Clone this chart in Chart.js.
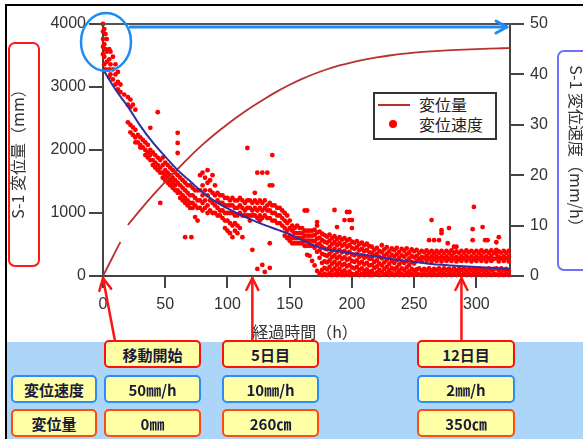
<!DOCTYPE html>
<html><head><meta charset="utf-8">
<script src="https://cdn.jsdelivr.net/npm/chart.js@4.4.0/dist/chart.umd.min.js"></script>
<style>
html,body{margin:0;padding:0;background:#fff;}
#wrap{position:relative;width:583px;height:439px;overflow:hidden;background:#fff;}
#band{position:absolute;left:6px;top:342px;width:577px;height:97px;background:#acd5f7;}
#frameT{position:absolute;left:5px;top:4px;width:578px;height:2px;background:#000;}
#frameL{position:absolute;left:5px;top:4px;width:2px;height:435px;background:#000;}
canvas{position:absolute;left:0;top:0;}
.box{position:absolute;box-sizing:border-box;background:#ffffa6;border:2px solid #ff1010;border-radius:5px;font:bold 15px "Noto Sans CJK JP",sans-serif;color:#1a1a3a;display:flex;align-items:center;justify-content:center;}
.r2{border-color:#2a8cff;}
.r3{border-color:#ff4a10;}
.ttl{position:absolute;font:16px "Noto Sans CJK JP",sans-serif;color:#333;text-align:center;white-space:nowrap;}
.rbox{position:absolute;box-sizing:border-box;border-radius:7px;}
#legend{position:absolute;left:373px;top:92px;width:124px;height:48px;box-sizing:border-box;border:2px solid #333;background:#fff;}
.lt{position:absolute;font:16px "Noto Sans CJK JP",sans-serif;color:#222;line-height:18px;}
</style></head>
<body>
<div id="wrap">
<div id="band"></div>
<canvas id="c" width="583" height="439"></canvas>
<div id="frameT"></div><div id="frameL"></div>
<div class="rbox" style="left:8px;top:42px;width:32px;height:225px;border:2px solid #ff1a1a;"></div>
<div class="rbox" style="left:557px;top:50px;width:40px;height:221px;border:2px solid #7070ff;"></div>
<div class="ttl" style="left:-83px;top:140px;width:200px;height:20px;line-height:20px;transform:rotate(-90deg);">S-1 変位量（mm）</div>
<div class="ttl" style="left:477px;top:140px;width:200px;height:20px;line-height:20px;transform:rotate(90deg);">S-1 変位速度（mm/h）</div>
<div class="ttl" style="left:205px;top:320px;width:200px;height:22px;line-height:22px;">経過時間（h）</div>
<div id="legend"></div>
<div style="position:absolute;left:378px;top:104px;width:32px;height:2px;background:#b8312f;"></div>
<div style="position:absolute;left:389px;top:120px;width:8px;height:8px;border-radius:4px;background:#ff0000;"></div>
<div class="lt" style="left:419px;top:95px;">変位量</div>
<div class="lt" style="left:419px;top:115px;">変位速度</div>
<div class="box" style="left:104px;top:340px;width:97px;height:28px;">移動開始</div>
<div class="box" style="left:222px;top:340px;width:97px;height:28px;">5日目</div>
<div class="box" style="left:417px;top:340px;width:98px;height:28px;">12日目</div>
<div class="box r2" style="left:11px;top:375px;width:86px;height:28px;">変位速度</div>
<div class="box r2" style="left:104px;top:375px;width:97px;height:28px;">50㎜/h</div>
<div class="box r2" style="left:222px;top:375px;width:97px;height:28px;">10㎜/h</div>
<div class="box r2" style="left:417px;top:375px;width:98px;height:28px;">2㎜/h</div>
<div class="box r3" style="left:11px;top:409px;width:86px;height:28px;">変位量</div>
<div class="box r3" style="left:104px;top:409px;width:97px;height:28px;">0㎜</div>
<div class="box r3" style="left:222px;top:409px;width:97px;height:28px;">260㎝</div>
<div class="box r3" style="left:417px;top:409px;width:98px;height:28px;">350㎝</div>
</div>
<script>
// ---- data ----
const xTicks = [0,50,100,150,200,250,300];
const dispTicks = [0,1000,2000,3000,4000];
const velTicks = [0,10,20,30,40,50];
const eventHours = [0,120,288];

const dispTime  = [0,4,8,12,14,17,20,30,40,50,60,70,80,90,100,110,120,130,140,150,160,170,180,190,200,210,220,230,240,250,260,270,280,290,300,310,320,327];
const dispValue = [0,155,310,465,540,null,810,1050,1280,1495,1700,1900,2085,2255,2410,2555,2690,2815,2930,3035,3128,3210,3282,3342,3392,3435,3470,3500,3525,3545,3561,3574,3585,3594,3602,3609,3615,3619];

const fitTime  = [0,10,20,30,40,50,60,70,80,90,100,110,120,130,140,150,160,170,180,190,200,220,240,260,280,300,327];
const fitValue = [41,37.0,33.6,29.8,26.5,23.7,21.0,18.8,16.6,14.8,13.4,12.2,11.1,10.1,9.2,8.3,7.1,6.0,5.2,4.9,4.5,3.8,3.1,2.5,2.1,1.8,1.4];

const velTime = [
 0,1,2,3,5,6,8,10,12,14,
 17,20,22,24,26,28,30,32,34,36,
 38,40,42,44,46,48,50,52,54,56,
 58,60,62,64,66,68,70,71,72,74,
 76,78,80,82,84,86,88,90,92,94,
 96,98,100,102,104,106,108,110,112,114,
 116,118,120,122,124,126,128,130,132,134,
 136,138,140,142,144,146,148,150,152,154,
 156,158,160,162,164,166,168,170,172,174,
 176,178,180,182,184,186,188,190,192,194,
 196,198,200,202,204,206,208,210,212,214,
 216,218,220,222,224,226,228,230,232,234,
 236,238,240,242,244,246,248,250,252,254,
 256,258,260,262,264,266,268,270,272,274,
 276,277,278,280,282,284,286,288,290,292,
 294,296,297,298,300,302,304,305,306,307,
 308,309,310,312,314,316,318,320,322,324,
 326
];
const velValues = [
 [50,48.5,47,45.5,44],[49,46,43.5,42],[48,45,41],[47,44.5,42.5],[45,43,41,39.5],[44.5,42,40],[43.5,41,39],[42,40,38],[40.5,38.5,37],[38,36.5],
 [36],[35.5,34,30.5],[35,33.5,30,28.5],[34,29.5,28],[33,29,27.5,26.5],[28,26.5],[27.5,26,25.5],[27,25.5],[26.5,25,24],[26,24.5,23.5],
 [29.4,25,24,23],[24.5,23,22],[24,22.5,21.5],[32.5,23.5,22,21],[23,21.5,20.5,14.5],[23.5,22,20.5,19.5],[22.5,21,20,19],[22,20.5,19.5,18.5],[21.5,20,19,18],[21,19.5,18.5,17.5],
 [20.5,19,18,17],[28.4,26.4,24.4,20,18.5,17,16.5],[19.5,18,16.5,15.5],[19,17.5,16,15],[18.5,17,15.5,14.5,7.7],[18,16.5,15,14],[18,16,14.5,13.5],[7.7],[17.5,16,14.5,13.5],[17,15.5,14,11.7],
 [17,15,13.5,11],[20,17,15,13.5],[20.5,18,16,14.5,13],[19.5,17,15,13.5],[21,18.5,16,14,12.5],[19,17,15,13],[20,16.5,14.5,12.5],[18,16,14,12.5],[16.5,15,13.5,12],[16,14.5,13,12],
 [16,14.5,13,11.5],[15.5,14,12.5,11,9.5],[15.5,14,12.5,11,9],[15,14,12.5,10.5,8.5],[15.5,14,12.5,10,7.7],[15,13.5,12,10.5,9],[15,13.5,12,10,8.5],[15.5,14,12.5,9.5],[15,13.5,12,7.7],[14.5,13,12],
 [25.4,15,13.5,12],[15,13.5,12,11],[14.5,13,12,5.2],[16.5,15,13.5,12],[20.5,14.5,13,11.5,1.4],[15,13.5,12,11],[20.5,14.5,13,11.5,2.2],[15,13.5,12,0.8],[20.5,14,13,11.5],[18,14.5,13,11.5,6.5,1.6],
 [24,18,14,12.5,11],[14,12.5,11],[13.5,12,10.5],[13.5,12,10.5],[13,11.5,10],[12.5,11,9.5,8],[12,10.5,9,7.5],[11,9.5,8,7],[10,9,7.5,6.5],[9.5,8.5,7.5,6.5],
 [10,8.5,7.5,6.5],[9.5,8.5,7.5,6.5],[9.5,8.5,7.5,6.5],[13,9,8,7,6],[13,9,8,7,6,4.2],[9,8,7,6,4],[9,8,7,6,3],[9.2,8.1,6.9,5.6,2.1],[10.7,10,8.6,7.4,6.2,4.8,1],[8.8,7.6,6.4,5.1,3.6,0.5],
 [8.4,7.1,5.8,4.4,2.6,1.2,0.2],[8.1,6.8,5.5,4.2,2.9,1.6,0.4],[7.8,6.6,5.3,4,2.7,1.3,0.2],[8.2,7,5.7,4.4,3.1,1.8,0.5],[7.5,6.3,5,3.7,2.4,1.1,0.2],[13.1,7.9,6.7,5.4,4.1,2.8,1.5,0.3],[9.7,7.3,6.1,4.8,3.5,2.2,0.9,0.2],[7.7,6.5,5.2,3.9,2.6,1.4,0.3],[7.2,6,4.7,3.4,2.1,0.8,0.2],[11.1,7.5,6.3,5,3.7,2.4,1.1,0.2],
 [12.7,7,5.8,4.5,3.2,1.9,0.6],[12.7,11.1,7.3,6.1,4.8,3.5,2.2,0.9,0.2],[11.1,9.5,6.8,5.6,4.3,3,1.7,0.4],[6.6,5.4,4.1,2.8,1.5,0.3],[6.9,5.7,4.4,3.1,1.8,0.6],[6.3,5.1,3.8,2.5,1.2,0.2],[6.6,5.4,4.1,2.8,1.5,0.4],[6.1,4.9,3.6,2.3,1,0.2],[6.4,5.2,3.9,2.6,1.3,0.4],[5.9,4.7,3.4,2.1,0.8,0.2],
 [5.8,4.6,3.4,2.2,1,0.2],[5.2,4.1,2.8,1.6,0.4],[5.6,4.4,3.1,1.9,0.7],[5,3.8,2.5,1.2,0.2],[6.1,4.7,3.5,2.1,0.8],[5.3,4,2.7,1.4,0.3],[5.7,4.4,3.2,1.8,0.6],[4.9,3.7,2.4,1.1,0.2],[5.5,4.2,3,1.6,0.5],[5.1,3.9,2.6,1.3,0.2],
 [5.6,4.3,3.1,1.7,0.6],[4.8,3.6,2.3,1,0.2],[5.4,4.1,2.9,1.5,0.4],[5,3.8,2.6,1.2,0.2],[5.5,4.3,3,1.7,0.6],[4.7,3.5,2.2,0.9,0.2],[5.3,4,2.8,1.4,0.4],[4.9,3.7,2.5,1.1,0.2],[5.2,4,3,1.3,0.5],[4.6,3.4,1.5,0.3],
 [5,3.8,2.9,1.1,0.2],[4.7,3.6,1.4,0.5],[5.1,4,3,1.2,0.2],[7.1,4.6,3.5,1.5,0.5],[11.1,5,3.9,2.9,1.1,0.2],[7.1,4.5,3.4,1.4,0.5],[5,3.9,3,1.2,0.2],[7.1,4.6,3.5,1.5,0.5],[9.1,8.5,5,3.9,2.9,1.1,0.2],[4.6,3.5,1.5,0.5],
 [5,3.9,3,1.2,0.2],[6.5],[9.5,4.6,3.4,1.4,0.5],[5.1,4,3,1.1,0.2],[5.8,4.6,3.5,1.5,0.5],[5.8,4.9,3.8,2.9,1.1,0.2],[4.6,3.4,1.4,0.5],[5,3.9,3,1.2,0.2],[4.6,3.5,1.5,0.5],[5.1,4,3,1.1,0.2],
 [4.7,3.5,1.5,0.5],[5,3.9,2.9,1.2,0.2],[9.3,7.1],[13.7,4.6,3.4,1.4,0.5],[5,3.9,3,1.1,0.2],[4.6,3.5,1.5,0.5],[5.1,4,3,1.2,0.2],[9.7],[4.7,3.5,1.4,0.5],[7.1],
 [5,3.9,2.9,1.1,0.2],[7.1],[4.6,3.5,1.5,0.5],[5.1,4,3,1.2,0.2],[4.6,3.4,1.4,0.5],[6.7,5.2,4.4,3.5,1.5,0.3],[7.7,4.9,3.8,2.9,1.1,0.2],[4.6,3.5,1.5,0.5],[5,3.9,3,1.2,0.2],[4.6,3.5,1.4,0.5],
 [5,3.9,2.9,1.1,0.2]
];

// ---- build ----
const velPoints = [];
velTime.forEach((t,i)=>{ (velValues[i]||[]).forEach(v=>velPoints.push({x:t,y:v})); });
const dispPoints = dispTime.map((t,i)=>({x:t,y:dispValue[i]}));
const fitPoints = fitTime.map((t,i)=>({x:t,y:fitValue[i]}));

function arrow(ctx,x0,y0,x1,y1,head,half){
  ctx.beginPath(); ctx.moveTo(x0,y0); ctx.lineTo(x1,y1); ctx.stroke();
  const a=Math.atan2(y1-y0,x1-x0);
  const bx=x1-head*Math.cos(a), by=y1-head*Math.sin(a);
  const nx=-Math.sin(a)*half, ny=Math.cos(a)*half;
  ctx.beginPath(); ctx.moveTo(bx+nx,by+ny); ctx.lineTo(x1,y1); ctx.lineTo(bx-nx,by-ny); ctx.stroke();
}
const annot = {
  id:'annot',
  afterDraw(chart){
    const {ctx, chartArea:a, scales} = chart;
    const sx=scales.x, sy=scales.y;
    ctx.save();
    ctx.lineCap='round'; ctx.lineJoin='round';
    ctx.strokeStyle='#555'; ctx.lineWidth=2;
    ctx.beginPath(); ctx.moveTo(a.left,a.top); ctx.lineTo(a.right,a.top); ctx.stroke();
    ctx.strokeStyle='#1e8cf5'; ctx.lineWidth=2.5;
    ctx.beginPath(); ctx.ellipse(a.left+3,a.top+18,25,29,0,0,Math.PI*2); ctx.stroke();
    ctx.lineWidth=3;
    arrow(ctx,a.left+27,a.top+3,a.right-3,a.top+3,11,6);
    ctx.strokeStyle='#ff1414'; ctx.lineWidth=2.5;
    const y0=sy.getPixelForValue(0)+2;
    const startX=[115,null,null];
    eventHours.forEach((h,i)=>{
      const px=sx.getPixelForValue(h);
      arrow(ctx,startX[i]!==null?startX[i]:px,341,px,y0,12,6);
    });
    ctx.restore();
  }
};
const tickFont = {family:'Liberation Sans',size:16};
const plain = v => String(v);

new Chart(document.getElementById('c'),{
  type:'scatter',
  data:{datasets:[
    {type:'line',data:fitPoints,yAxisID:'y1',borderColor:'#2e2e9e',borderWidth:2,pointRadius:0,tension:0.4,order:1},
    {type:'line',data:dispPoints,yAxisID:'y',borderColor:'#b8312f',borderWidth:1.8,pointRadius:0,cubicInterpolationMode:'monotone',spanGaps:false,order:2},
    {type:'scatter',data:velPoints,yAxisID:'y1',backgroundColor:'#ff0000',borderWidth:0,pointRadius:2.4,clip:false,order:3}
  ]},
  options:{
    responsive:false,animation:false,devicePixelRatio:1,
    layout:{padding:{top:24,left:0,right:0,bottom:0}},
    plugins:{legend:{display:false},tooltip:{enabled:false}},
    scales:{
      x:{type:'linear',min:0,max:327,
        afterBuildTicks:s=>{s.ticks=xTicks.map(v=>({value:v}));},
        ticks:{font:tickFont,color:'#333',padding:7,maxRotation:0,callback:plain},
        grid:{drawOnChartArea:false,drawTicks:true,tickLength:12,color:'#444',lineWidth:2},
        border:{display:true,color:'#444',width:2},
        afterFit:s=>{s.height=163;}},
      y:{position:'left',min:0,max:4000,
        afterBuildTicks:s=>{s.ticks=dispTicks.map(v=>({value:v}));},
        ticks:{font:tickFont,color:'#333',padding:3,callback:plain},
        grid:{drawOnChartArea:false,drawTicks:true,tickLength:14,color:'#444',lineWidth:2},
        border:{display:true,color:'#444',width:2},
        afterFit:s=>{s.width=103;}},
      y1:{position:'right',min:0,max:50,
        afterBuildTicks:s=>{s.ticks=velTicks.map(v=>({value:v}));},
        ticks:{font:tickFont,color:'#333',padding:6,callback:plain},
        grid:{drawOnChartArea:false,drawTicks:true,tickLength:14,color:'#444',lineWidth:2},
        border:{display:true,color:'#444',width:2},
        afterFit:s=>{s.width=73;}}
    }
  },
  plugins:[annot]
});
</script>
</body></html>
